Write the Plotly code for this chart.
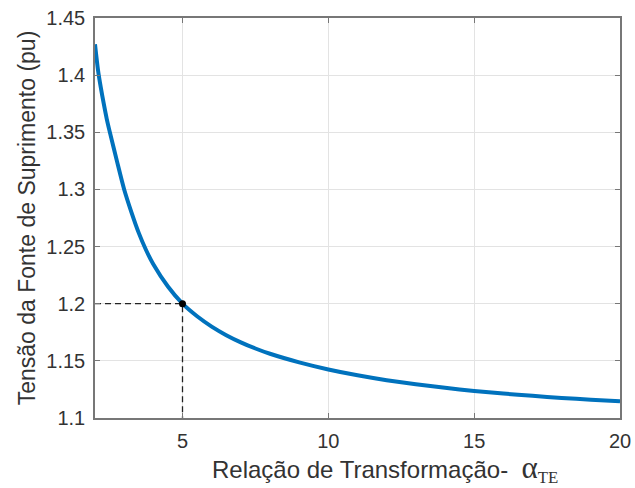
import plotly.graph_objects as go

# Data
alpha_te = [2.0, 2.1, 2.2, 2.3, 2.4, 2.5, 2.75, 3.0, 3.25, 3.5, 3.75, 4.0, 4.5, 5.0,
            5.5, 6.0, 6.5, 7.0, 7.5, 8.0, 9.0, 10.0, 11.0, 12.0, 13.0, 14.0, 15.0,
            16.0, 17.0, 18.0, 19.0, 20.0]
tensao = [1.427, 1.405, 1.389, 1.375, 1.362, 1.351, 1.325, 1.300, 1.280, 1.262, 1.247, 1.2345, 1.215, 1.200,
          1.1890, 1.1800, 1.1725, 1.1662, 1.1608, 1.1562, 1.1487, 1.1425, 1.1374, 1.1331, 1.1295, 1.1264, 1.1237,
          1.1214, 1.1194, 1.1176, 1.1160, 1.1146]

ref_x = 5.0
ref_y = 1.2

x_ticks = [5, 10, 15, 20]
y_ticks = [1.1, 1.15, 1.2, 1.25, 1.3, 1.35, 1.4, 1.45]
y_ticktext = ["1.1", "1.15", "1.2", "1.25", "1.3", "1.35", "1.4", "1.45"]

x_range = [2, 20]
y_range = [1.1, 1.45]

x_title = ("Relação de Transformação-  "
           "<span style='font-family:Liberation Serif, Times New Roman; font-size:31px'>α</span>"
           "<span style='font-family:Liberation Serif, Times New Roman'><sub>TE</sub></span>")
y_title = "Tensão da Fonte de Suprimento (pu)"

fig = go.Figure()

# dashed guide lines
fig.add_trace(go.Scatter(
    x=[x_range[0], ref_x, ref_x], y=[ref_y, ref_y, y_range[0]],
    mode="lines", line=dict(color="#222222", width=1.3, dash="6px,4px"),
    hoverinfo="skip", showlegend=False, cliponaxis=False))

fig.add_trace(go.Scatter(
    x=alpha_te, y=tensao, mode="lines",
    line=dict(color="#0072BD", width=4, shape="spline", smoothing=0.7),
    showlegend=False))

fig.add_trace(go.Scatter(
    x=[ref_x], y=[ref_y], mode="markers",
    marker=dict(color="black", size=7), showlegend=False))

axis_common = dict(
    showline=True, linecolor="#777777", linewidth=1.5, mirror="ticks",
    ticks="inside", ticklen=5, tickcolor="#777777", tickwidth=1,
    showgrid=True, gridcolor="#e3e3e3", gridwidth=1, zeroline=False,
    automargin=False,
    tickfont=dict(family="Liberation Sans, Arial", size=20, color="#333333"),
)

fig.update_xaxes(
    range=x_range, tickvals=x_ticks, ticktext=[str(v) for v in x_ticks],
    ticklabelstandoff=4,
    **axis_common)

fig.update_yaxes(
    range=y_range, tickvals=y_ticks, ticktext=y_ticktext,
    title=dict(text=y_title,
               font=dict(family="Liberation Sans, Arial", size=23, color="#333333"),
               standoff=4),
    ticklabelstandoff=4,
    **axis_common)

fig.add_annotation(
    text=x_title, xref="paper", yref="paper", x=0.553, y=0,
    xanchor="center", yanchor="top", yshift=-30, showarrow=False,
    font=dict(family="Liberation Sans, Arial", size=24, color="#333333"))

fig.update_layout(
    width=635, height=488,
    margin=dict(l=95, r=15, t=18, b=70),
    plot_bgcolor="white", paper_bgcolor="white",
)

fig.write_html("out.html")
